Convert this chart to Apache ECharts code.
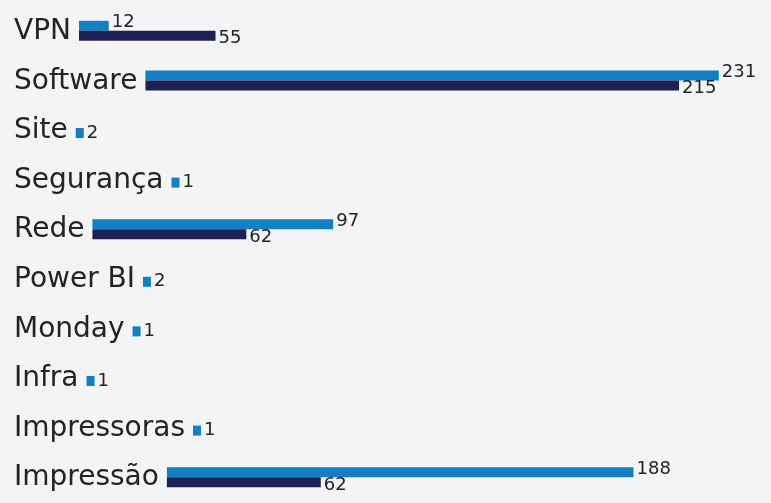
<!DOCTYPE html>
<html>
<head>
<meta charset="utf-8">
<script src="https://cdn.jsdelivr.net/npm/echarts@6/dist/echarts.min.js"></script>
<style>
  html, body { margin: 0; padding: 0; background: #f3f4f6; }
  #chart { width: 771px; height: 503px; }
</style>
</head>
<body>
<div id="chart"></div>
<script>
// categorias (de cima para baixo)
var categorias = ['VPN', 'Software', 'Site', 'Segurança', 'Rede', 'Power BI', 'Monday', 'Infra', 'Impressoras', 'Impressão'];
// barra azul clara
var serieAzul = [12, 231, 2, 1, 97, 2, 1, 1, 1, 188];
// barra azul escura
var serieEscura = [55, 215, null, null, 62, null, null, null, null, 62];

var corAzul = '#127fc2';
var corEscura = '#1f2055';
var corTexto = '#232323';
var fonteCat = 28;
var fonteValor = 18;

// mede a largura do rótulo de cada categoria, a barra começa logo depois dele
var ctx = document.createElement('canvas').getContext('2d');
ctx.font = fonteCat + 'px "DejaVu Sans"';
var largRotulo = categorias.map(function (c) { return ctx.measureText(c).width; });

function temPar(i) {
    return serieEscura[i] != null;
}

function desenha(qual) {
    return function (params, api) {
        var val = api.value(0);
        var idx = api.value(1);
        var centro = api.coord([0, idx]);
        var x0 = centro[0] + largRotulo[idx] + 8;
        var w = Math.max(api.size([val, 0])[0], 8);
        var h = 10;
        var y;
        if (qual === 'azul') {
            y = temPar(idx) ? centro[1] - h - 1 : centro[1] - h / 2 + 2;
        } else {
            y = centro[1] - 1;
        }
        return {
            type: 'group',
            children: [{
                type: 'rect',
                shape: {x: x0, y: y, width: w, height: h},
                style: {fill: qual === 'azul' ? corAzul : corEscura}
            }, {
                type: 'text',
                style: {
                    text: String(val),
                    x: x0 + w + 3,
                    y: y + h / 2 + (qual === 'azul' ? (temPar(idx) ? -3 : 0) : 3),
                    verticalAlign: 'middle',
                    align: 'left',
                    fontSize: fonteValor,
                    fontFamily: 'DejaVu Sans',
                    fill: corTexto
                }
            }]
        };
    };
}

var dadosAzul = serieAzul.map(function (v, i) { return [v, i]; });
var dadosEscura = [];
serieEscura.forEach(function (v, i) { if (v != null) dadosEscura.push([v, i]); });

var myChart = echarts.init(document.getElementById('chart'));
myChart.setOption({
    backgroundColor: '#f3f4f6',
    animation: false,
    grid: {
        left: 14,
        right: 0,
        top: 7,
        height: 508
    },
    xAxis: {
        type: 'value',
        min: 0,
        max: 305,
        show: false
    },
    yAxis: {
        type: 'category',
        inverse: true,
        data: categorias,
        axisLine: {show: false},
        axisTick: {show: false},
        splitLine: {show: false},
        axisLabel: {
            inside: true,
            margin: 0,
            padding: [4, 0, 0, 0],
            fontSize: fonteCat,
            fontFamily: 'DejaVu Sans',
            color: corTexto
        }
    },
    series: [
        {
            name: 'azul',
            type: 'custom',
            renderItem: desenha('azul'),
            encode: {x: 0, y: 1},
            data: dadosAzul
        },
        {
            name: 'escura',
            type: 'custom',
            renderItem: desenha('escura'),
            encode: {x: 0, y: 1},
            data: dadosEscura
        }
    ]
});
</script>
</body>
</html>
